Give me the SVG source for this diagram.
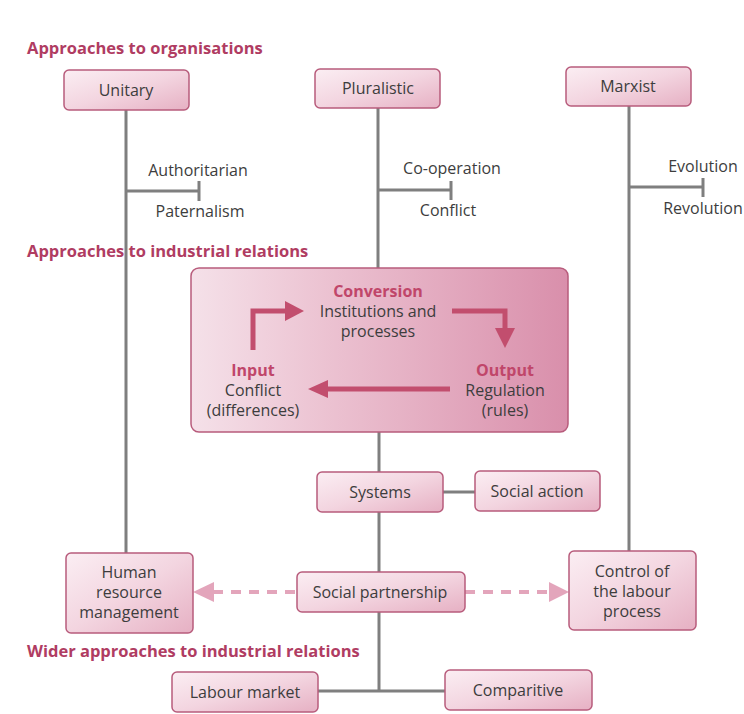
<svg xmlns="http://www.w3.org/2000/svg" width="744" height="714" viewBox="0 0 744 714">
<defs>
<linearGradient id="boxg" x1="0" y1="0" x2="1" y2="1">
<stop offset="0" stop-color="#fbeef3"/>
<stop offset="0.5" stop-color="#f3d5e0"/>
<stop offset="1" stop-color="#e6b0c3"/>
</linearGradient>
<linearGradient id="convg" x1="0" y1="0" x2="1" y2="0">
<stop offset="0" stop-color="#f5e1e9"/>
<stop offset="0.35" stop-color="#ecc3d2"/>
<stop offset="1" stop-color="#d98fab"/>
</linearGradient>
</defs>
<style>
.box{fill:url(#boxg);stroke:#b85c7c;stroke-width:1.5}
.conv{fill:url(#convg);stroke:#b85c7c;stroke-width:1.5}
.t{font-family:"Open Sans","Noto Sans",sans-serif;font-size:16px;fill:#3d3d3d;text-anchor:middle}
.h{font-family:"Open Sans","Noto Sans",sans-serif;font-size:16.5px;font-weight:bold;fill:#b03c62}
.hb{font-family:"Open Sans","Noto Sans",sans-serif;font-size:16px;font-weight:bold;fill:#c0466a;text-anchor:middle}
.ln{stroke:#7f7f7f;stroke-width:3;fill:none}
.ar{stroke:#c24e6e;stroke-width:5;fill:none}
.ahd{fill:#c24e6e}
.ds{stroke:#e3a5bb;stroke-width:4;stroke-dasharray:10 8;fill:none}
.dh{fill:#e3a5bb}
</style>
<rect width="744" height="714" fill="#ffffff"/>

<g id="titles">
<text class="h" x="27" y="54">Approaches to organisations</text>
<text class="h" x="27" y="257">Approaches to industrial relations</text>
<text class="h" x="27" y="657">Wider approaches to industrial relations</text>
</g>

<g id="connectors">
<line class="ln" x1="126" y1="110" x2="126" y2="553"/>
<line class="ln" x1="126" y1="191" x2="199" y2="191"/>
<line class="ln" x1="199" y1="181" x2="199" y2="201"/>
<line class="ln" x1="378" y1="108" x2="378" y2="268"/>
<line class="ln" x1="378" y1="190" x2="451" y2="190"/>
<line class="ln" x1="451" y1="181" x2="451" y2="200"/>
<line class="ln" x1="629" y1="106" x2="629" y2="551"/>
<line class="ln" x1="629" y1="187" x2="703" y2="187"/>
<line class="ln" x1="703" y1="178" x2="703" y2="197"/>
<line class="ln" x1="379" y1="432" x2="379" y2="472"/>
<line class="ln" x1="443" y1="492" x2="475" y2="492"/>
<line class="ln" x1="379" y1="512" x2="379" y2="572"/>
<line class="ln" x1="379" y1="612" x2="379" y2="691"/>
<line class="ln" x1="318" y1="691" x2="445" y2="691"/>
<line class="ds" x1="213" y1="592" x2="297" y2="592"/>
<polygon class="dh" points="193,592 214,582 214,602"/>
<line class="ds" x1="465" y1="592" x2="550" y2="592"/>
<polygon class="dh" points="569,592 549,582 549,602"/>
</g>

<g id="unitary">
<rect class="box" x="64" y="70" width="125" height="40" rx="5"/>
<text class="t" x="126" y="96">Unitary</text>
</g>
<g id="pluralistic">
<rect class="box" x="315" y="69" width="125" height="39" rx="5"/>
<text class="t" x="378" y="94">Pluralistic</text>
</g>
<g id="marxist">
<rect class="box" x="566" y="67" width="125" height="39" rx="5"/>
<text class="t" x="628" y="92">Marxist</text>
</g>

<g id="authoritarian"><text class="t" x="198" y="176">Authoritarian</text></g>
<g id="paternalism"><text class="t" x="200" y="217">Paternalism</text></g>
<g id="cooperation"><text class="t" x="452" y="174">Co-operation</text></g>
<g id="conflict"><text class="t" x="448" y="216">Conflict</text></g>
<g id="evolution"><text class="t" x="703" y="172">Evolution</text></g>
<g id="revolution"><text class="t" x="703" y="214">Revolution</text></g>

<g id="conversion-box">
<rect class="conv" x="191" y="268" width="377" height="164" rx="8"/>
<text class="hb" x="378" y="297">Conversion</text>
<text class="t" x="378" y="317">Institutions and</text>
<text class="t" x="378" y="337">processes</text>
<polyline class="ar" points="253,350 253,311 286,311"/>
<polygon class="ahd" points="304,311 285,301 285,321"/>
<polyline class="ar" points="452,311 505,311 505,330"/>
<polygon class="ahd" points="505,348 495,328 515,328"/>
<line class="ar" x1="450" y1="389" x2="327" y2="389"/>
<polygon class="ahd" points="308,389 328,380 328,398"/>
<text class="hb" x="253" y="376">Input</text>
<text class="t" x="253" y="396">Conflict</text>
<text class="t" x="253" y="416">(differences)</text>
<text class="hb" x="505" y="376">Output</text>
<text class="t" x="505" y="396">Regulation</text>
<text class="t" x="505" y="416">(rules)</text>
</g>

<g id="systems">
<rect class="box" x="317" y="472" width="126" height="40" rx="5"/>
<text class="t" x="380" y="498">Systems</text>
</g>
<g id="social-action">
<rect class="box" x="475" y="471" width="125" height="40" rx="5"/>
<text class="t" x="537" y="497">Social action</text>
</g>
<g id="hrm">
<rect class="box" x="66" y="553" width="127" height="80" rx="5"/>
<text class="t" x="129" y="578">Human</text>
<text class="t" x="129" y="598">resource</text>
<text class="t" x="129" y="618">management</text>
</g>
<g id="social-partnership">
<rect class="box" x="297" y="572" width="168" height="40" rx="5"/>
<text class="t" x="380" y="598">Social partnership</text>
</g>
<g id="control">
<rect class="box" x="569" y="551" width="127" height="79" rx="5"/>
<text class="t" x="632" y="577">Control of</text>
<text class="t" x="632" y="597">the labour</text>
<text class="t" x="632" y="617">process</text>
</g>
<g id="labour-market">
<rect class="box" x="172" y="672" width="146" height="40" rx="5"/>
<text class="t" x="245" y="698">Labour market</text>
</g>
<g id="comparitive">
<rect class="box" x="445" y="670" width="147" height="40" rx="5"/>
<text class="t" x="518" y="696">Comparitive</text>
</g>
</svg>
